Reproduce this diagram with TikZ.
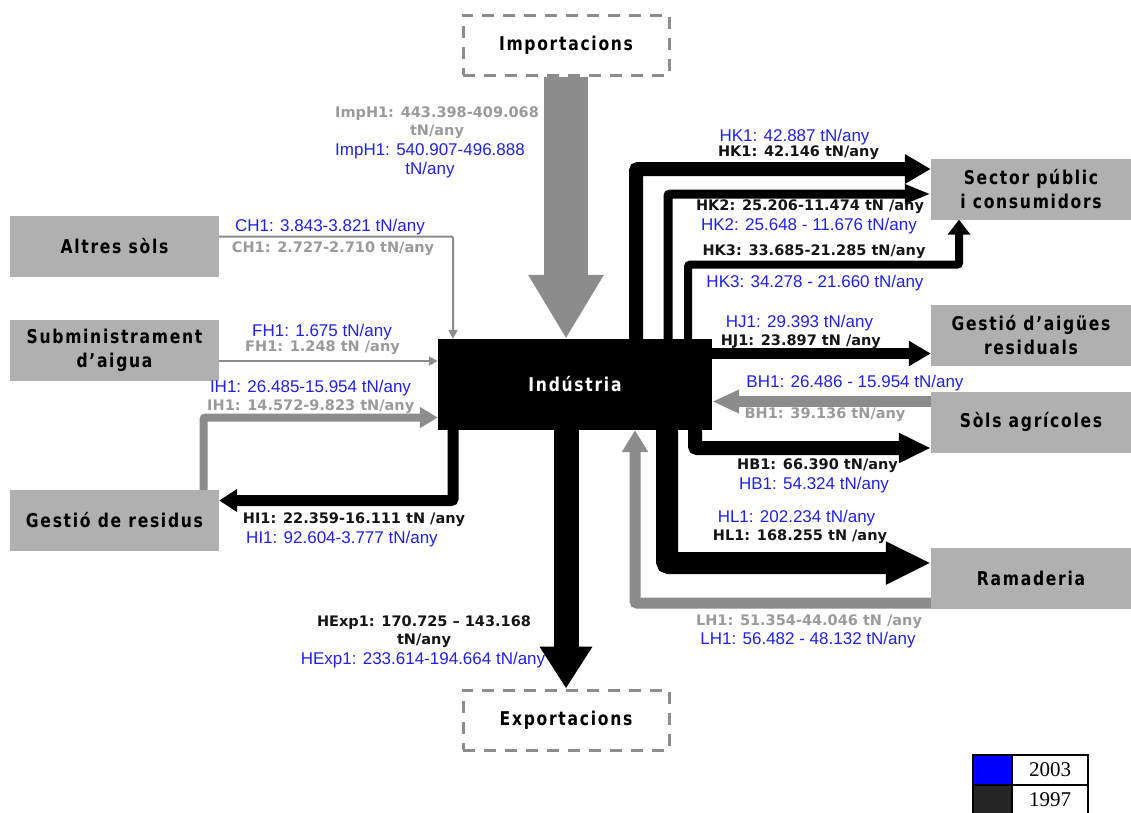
\documentclass[tikz,border=0pt]{standalone}
\usepackage{fontspec}
\setmainfont{DejaVu Sans}
\newfontfamily\boxfont{DejaVu Sans Bold}[FakeStretch=0.82, LetterSpace=9]
\newfontfamily\labfont{DejaVu Sans Bold}
\newfontfamily\arialfont{Liberation Sans}
\newfontfamily\timesfont{Liberation Serif}
\usetikzlibrary{arrows.meta}
\definecolor{boxgrey}{HTML}{B0B0B0}
\definecolor{flowgrey}{HTML}{8C8C8C}
\definecolor{labgrey}{HTML}{9A9A9A}
\definecolor{labblue}{HTML}{2020F0}
\definecolor{labblack}{HTML}{151515}
\definecolor{keydark}{HTML}{252525}

\begin{document}
\begin{tikzpicture}[x=1pt,y=-1pt,
		sidebox/.style={fill=boxgrey, minimum width=#1, minimum height=61pt, inner sep=0pt, align=center, font=\boxfont\fontsize{19}{24}\selectfont},
		dashbox/.style={draw=flowgrey, line width=3pt, dash pattern=on 12pt off 9pt, minimum width=206pt, minimum height=60pt, font=\boxfont\fontsize{19}{24}\selectfont},
		blkflow/.style={draw=black, rounded corners=2pt},
		greyflow/.style={draw=flowgrey, rounded corners=2pt},
		bluelab/.style={inner sep=0pt, text=labblue, align=center, font=\arialfont\fontsize{17}{19}\selectfont},
		blacklab/.style={inner sep=0pt, text=labblack, align=center, font=\labfont\fontsize{14.5}{17.5}\selectfont},
		greylab/.style={inner sep=0pt, text=labgrey, align=center, font=\labfont\fontsize{14.5}{18}\selectfont},
		keycell/.style={draw=black, line width=2.5pt, minimum height=30pt, inner sep=0pt, font=\timesfont\fontsize{21}{21}\selectfont}]
		\useasboundingbox (0,0) rectangle (1131,812);
		\node [dashbox] (imp) at (566,45) {Importacions};
		\node [dashbox] (exp) at (566,720) {Exportacions};
		\node [fill=black, text=white, minimum width=274pt, minimum height=91pt, inner sep=0pt, font=\boxfont\fontsize{19}{24}\selectfont] (ind) at (575,384.5) {Indústria};
		\node [sidebox=209pt] (altres) at (114.5,246.5) {Altres sòls};
		\node [sidebox=209pt] (submin) at (114.5,350.5) {Subministrament\\d’aigua};
		\node [sidebox=209pt] (residus) at (114.5,520.5) {Gestió de residus};
		\node [sidebox=200pt] (sector) at (1031,189) {Sector públic\\i consumidors};
		\node [sidebox=200pt] (aigues) at (1031,335.5) {Gestió d’aigües\\residuals};
		\node [sidebox=200pt] (agric) at (1031,422) {Sòls agrícoles};
		\node [sidebox=200pt] (ramad) at (1031,578) {Ramaderia};
		\draw [greyflow, line width=44pt, -{Triangle[length=64pt,width=71pt]}] (imp.south) -- (imp.south |- ind.north);
		\draw [blkflow, line width=25pt, -{Triangle[length=42pt,width=50pt]}] (exp.north |- ind.south) -- (exp.north);
		\draw [greyflow, line width=2pt, -{Triangle[length=9pt,width=9pt]}] ([yshift=10pt]altres.east) -| ([xshift=-122pt]ind.north);
		\draw [greyflow, line width=2pt, -{Triangle[length=9pt,width=9pt]}] ([yshift=-10.5pt]submin.east) -- ([yshift=-10.5pt]submin.east -| ind.west);
		\draw [greyflow, line width=8pt, -{Triangle[length=18pt,width=20pt]}] ([xshift=89pt]residus.north) |- ([yshift=-33pt]ind.west);
		\draw [blkflow, line width=11pt, -{Triangle[length=18pt,width=22pt]}] ([xshift=-122pt]ind.south) |- ([yshift=20pt]residus.east);
		\draw [blkflow, line width=14pt, -{Triangle[length=26pt,width=28pt]}] ([xshift=61pt]ind.north) |- ([yshift=20pt]sector.west);
		\draw [blkflow, line width=9pt, -{Triangle[length=26pt,width=18pt]}] ([xshift=93pt]ind.north) |- ([yshift=-5pt]sector.west);
		\coordinate (hk3end) at ([xshift=-72pt]sector.south);
		\draw [blkflow, line width=8pt, -{Triangle[length=15pt,width=22pt]}] ([xshift=113pt]ind.north) |- ([yshift=-45pt]hk3end) -- (hk3end);
		\draw [blkflow, line width=11pt, -{Triangle[length=22pt,width=24pt]}] ([yshift=31pt]ind.east) -- ([yshift=31pt]ind.east -| aigues.west);
		\draw [greyflow, line width=11pt, -{Triangle[length=27pt,width=22pt]}] ([yshift=20.5pt]agric.west) -- ([yshift=20.5pt]agric.west -| ind.east);
		\draw [blkflow, line width=14pt, -{Triangle[length=32pt,width=28pt]}] ([xshift=120pt]ind.south) |- ([yshift=-26pt]agric.west);
		\draw [blkflow, line width=22pt, -{Triangle[length=45pt,width=40pt]}] ([xshift=92pt]ind.south) |- ([yshift=15pt]ramad.west);
		\draw [greyflow, line width=11pt, -{Triangle[length=22pt,width=25pt]}] ([yshift=-25pt]ramad.west) -| ([xshift=60pt]ind.south);
		\node [greylab] (limpg) at (437,123) {ImpH1: 443.398-409.068\\tN/any};
		\node [bluelab] (limpb) at (430,161) {ImpH1: 540.907-496.888\\tN/any};
		\node [bluelab] (lch1b) at (330,227) {CH1: 3.843-3.821 tN/any};
		\node [greylab] (lch1g) at (333,249) {CH1: 2.727-2.710 tN/any};
		\node [bluelab] (lfh1b) at (322,332) {FH1: 1.675 tN/any};
		\node [greylab] (lfh1g) at (322.5,348) {FH1: 1.248 tN /any};
		\node [bluelab] (lih1b) at (310.5,388) {IH1: 26.485-15.954 tN/any};
		\node [greylab] (lih1g) at (310.7,407) {IH1: 14.572-9.823 tN/any};
		\node [blacklab] (lhi1k) at (354,520) {HI1: 22.359-16.111 tN /any};
		\node [bluelab] (lhi1b) at (342,539) {HI1: 92.604-3.777 tN/any};
		\node [bluelab] (lhk1b) at (794.5,137) {HK1: 42.887 tN/any};
		\node [blacklab] (lhk1k) at (798.5,153) {HK1: 42.146 tN/any};
		\node [blacklab] (lhk2k) at (810,207) {HK2: 25.206-11.474 tN /any};
		\node [bluelab] (lhk2b) at (809,226) {HK2: 25.648 - 11.676 tN/any};
		\node [blacklab] (lhk3k) at (814,252) {HK3: 33.685-21.285 tN/any};
		\node [bluelab] (lhk3b) at (815,283) {HK3: 34.278 - 21.660 tN/any};
		\node [bluelab] (lhj1b) at (799.5,323) {HJ1: 29.393 tN/any};
		\node [blacklab] (lhj1k) at (800.8,342) {HJ1: 23.897 tN /any};
		\node [bluelab] (lbh1b) at (855,383) {BH1: 26.486 - 15.954 tN/any};
		\node [greylab] (lbh1g) at (825,415) {BH1: 39.136 tN/any};
		\node [blacklab] (lhb1k) at (817.5,466) {HB1: 66.390 tN/any};
		\node [bluelab] (lhb1b) at (814,485) {HB1: 54.324 tN/any};
		\node [bluelab] (lhl1b) at (796.5,518) {HL1: 202.234 tN/any};
		\node [blacklab] (lhl1k) at (800,537) {HL1: 168.255 tN /any};
		\node [greylab] (llh1g) at (809,622) {LH1: 51.354-44.046 tN /any};
		\node [bluelab] (llh1b) at (808,640) {LH1: 56.482 - 48.132 tN/any};
		\node [blacklab] (lexpk) at (424,631.5) {HExp1: 170.725 – 143.168\\tN/any};
		\node [bluelab] (lexpb) at (423,660) {HExp1: 233.614-194.664 tN/any};
		\node [keycell, fill=blue, minimum width=39pt] (k03) at (992.5,770) {};
		\node [keycell, fill=white, minimum width=76pt] (t03) at (1050,770) {2003};
		\node [keycell, fill=keydark, minimum width=39pt] (k97) at (992.5,800) {};
		\node [keycell, fill=white, minimum width=76pt] (t97) at (1050,800) {1997};
	\end{tikzpicture}
\end{document}
